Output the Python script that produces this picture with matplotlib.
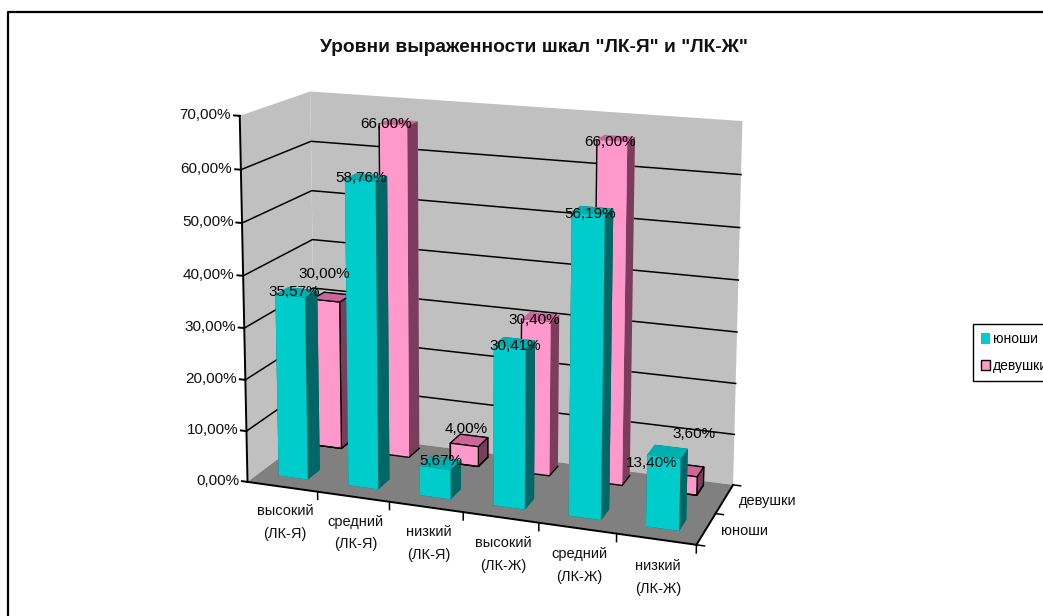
# -*- coding: utf-8 -*-
"""
3D column chart of the scale levels, boys and girls.
The camera is fitted to where the corners of the chart box sit in the picture.
"""

import numpy as np
import matplotlib
matplotlib.use("Agg")
import matplotlib.pyplot as plt
from matplotlib.patches import Patch
from mpl_toolkits.mplot3d import proj3d
from mpl_toolkits.mplot3d.art3d import Poly3DCollection

categories = ["высокий\n(ЛК-Я)", "средний\n(ЛК-Я)", "низкий\n(ЛК-Я)",
              "высокий\n(ЛК-Ж)", "средний\n(ЛК-Ж)", "низкий\n(ЛК-Ж)"]
series_names = ["юноши", "девушки"]
boys = [35.57, 58.76, 5.67, 30.41, 56.19, 13.40]
girls = [30.00, 66.00, 4.00, 30.40, 66.00, 3.60]
z_ticks = [0, 10, 20, 30, 40, 50, 60, 70]

W, H = 1043, 616
N = len(categories)
Z_MAX = z_ticks[-1]

# chart box point -> pixel in the picture
box_corners = [(0, 0, 0), (N, 0, 0), (N, 2, 0), (0, 2, 0),
               (0, 0, Z_MAX), (0, 2, Z_MAX), (N, 2, Z_MAX),
               (0, 0, 30), (N, 2, 30)]
box_pixels = [(247, 478), (697, 548), (733, 482), (316, 435),
              (240, 117), (310, 90), (743, 122),
              (244, 328), (736, 331)]

BOY_W = 0.42
GIRL_W = 0.4
BAR_D = 0.36
BOY_X = 0.49
GIRL_X = 0.435
BOY_Y = 0.33
GIRL_Y = 1.5
# faces in bar3d order: bottom, top, front, back, left, right
TEAL = ["#006666", "#00b0b0", "#00cccc", "#006666", "#006666", "#006666"]
PINK = ["#ff99cc", "#cc6699", "#ff99cc", "#ff99cc", "#7a3d5c", "#7a3d5c"]
OUTLINED = [0, 2, 5]

# nudges of the data labels: along the category axis, along the value axis
boy_label_shift = [(-0.04, 0), (-0.07, -0.2), (0, 0.4), (0, -0.6), (-0.04, -0.6), (-0.21, -2.5)]
girl_label_shift = [(-0.08, 5.3), (-0.17, 0), (-0.04, 3.2), (-0.09, 0.2), (-0.09, -0.2), (0.08, 8.2)]

plt.rcParams["font.family"] = ["Liberation Sans", "DejaVu Sans"]


def fit_camera(ax):
    """Least squares fit of the projection matrix from the box corners."""
    ax.apply_aspect()
    disp = [(px, H - py) for px, py in box_pixels]
    screen = ax.transData.inverted().transform(disp)
    rows = []
    rhs = []
    for (x, y, z), (u, v) in zip(box_corners, screen):
        rows.append([x, y, z, 1, 0, 0, 0, 0, -u * x, -u * y, -u * z])
        rows.append([0, 0, 0, 0, x, y, z, 1, -v * x, -v * y, -v * z])
        rhs.extend([u, v])
    p = np.linalg.lstsq(np.array(rows), np.array(rhs), rcond=None)[0]
    # third row only gives the depth order, far faces get the larger value
    return np.array([p[0:4], p[4:8], [0, 0, 0, -1], [p[8], p[9], p[10], 1]])


def label(x, y, z, text, color="#111111", **kwargs):
    """Put a flat text at a point of the 3D box."""
    u, v, _ = proj3d.proj_transform(x, y, z, camera)
    ax.text2D(u, v, text, transform=ax.transData, color=color, **kwargs)


def percent(value):
    return f"{value:.2f}%".replace(".", ",")


fig = plt.figure(figsize=(W / 100, H / 100), dpi=100, facecolor="white")
ax = fig.add_axes([0, 0, 1, 1], projection="3d", computed_zorder=False)
ax.set_axis_off()
camera = fit_camera(ax)
ax.get_proj = lambda: camera

# walls and floor
left_wall = [(0, 0, 0), (0, 2, 0), (0, 2, Z_MAX), (0, 0, Z_MAX)]
back_wall = [(0, 2, 0), (N, 2, 0), (N, 2, Z_MAX), (0, 2, Z_MAX)]
floor = [(0, 0, 0), (N, 0, 0), (N, 2, 0), (0, 2, 0)]
ax.add_collection3d(Poly3DCollection([left_wall, back_wall], facecolors="#c0c0c0",
                                     edgecolors="none", zorder=1))
ax.add_collection3d(Poly3DCollection([floor], facecolors="#808080",
                                     edgecolors="none", zorder=1))

# grid lines run along the left and the back wall
for z in z_ticks[1:-1]:
    ax.plot([0, 0, N], [0, 2, 2], [z, z, z], color="black", lw=1.1, zorder=2)

# axis lines and ticks
ax.plot([0, 0], [0, 0], [0, Z_MAX], color="black", lw=1.4, zorder=3)
ax.plot([0, N], [0, 0], [0, 0], color="black", lw=1.4, zorder=3)
ax.plot([N, N], [0, 2], [0, 0], color="black", lw=1.4, zorder=3)
for z in z_ticks:
    ax.plot([-0.08, 0], [0, 0], [z, z], color="black", lw=1.4, zorder=3)
    label(-0.12, 0, z, percent(z), ha="right", va="center", fontsize=11, zorder=3)
for i in range(1, N + 1):
    ax.plot([i, i], [0, 0], [0, -1.5], color="black", lw=1.1, zorder=3)
for j in range(3):
    ax.plot([N, N + 0.1], [j, j], [0, 0], color="black", lw=1.1, zorder=3)

# back row first, each row from the left
for i, value in enumerate(girls):
    left = i + GIRL_X - GIRL_W / 2
    right = left + GIRL_W
    edge = "black" if i in OUTLINED else "none"
    ax.bar3d(left, GIRL_Y, 0, GIRL_W, BAR_D, value, color=PINK, shade=False,
             edgecolors=edge, linewidths=0.9, zorder=10 + 2 * i)
    ax.plot([left, left, right, right], [GIRL_Y, GIRL_Y, GIRL_Y, GIRL_Y + BAR_D],
            [value, 0, 0, 0], color="black", lw=1.0, zorder=11 + 2 * i)
for i, value in enumerate(boys):
    ax.bar3d(i + BOY_X - BOY_W / 2, BOY_Y, 0, BOY_W, BAR_D, value, color=TEAL, shade=False,
             edgecolors="none", linewidths=0, zorder=30 + i)

for i, name in enumerate(categories):
    label(i + 0.53, 0, -7.0, name, ha="center", va="center", fontsize=10.5,
          linespacing=1.8, zorder=3)
for j, name in enumerate(series_names):
    label(N + 0.19, j + 0.5, 0, name, ha="left", va="center", fontsize=10.5, zorder=3)

for i in range(N):
    dx, dz = girl_label_shift[i]
    label(i + 0.5 + dx, 1.5, girls[i] + dz, percent(girls[i]), color="black", ha="center",
          va="center", fontsize=11, zorder=40)
    dx, dz = boy_label_shift[i]
    label(i + 0.5 + dx, 0.5, boys[i] + dz, percent(boys[i]), color="black", ha="center",
          va="center", fontsize=11, zorder=40)

fig.text(534 / W, 1 - 47 / H, 'Уровни выраженности шкал "ЛК-Я" и "ЛК-Ж"', ha="center",
         va="center", fontsize=13.8, fontweight="bold", color="#111111")

# chart border, cut by the right and bottom edge of the picture
fig.add_artist(plt.Line2D([8 / W, 8 / W, 1], [0, 1 - 12 / H, 1 - 12 / H], color="black", lw=1.6))

handles = [Patch(facecolor=TEAL[2], edgecolor="none"),
           Patch(facecolor=PINK[2], edgecolor="black")]
fig.legend(handles, series_names, loc="upper left", bbox_to_anchor=(973 / W, 1 - 324 / H),
           borderaxespad=0, fontsize=10, fancybox=False, framealpha=1, edgecolor="black",
           handlelength=0.65, handleheight=0.8, handletextpad=0.2, labelspacing=0.9,
           borderpad=0.6)

fig.savefig("out.png", dpi=100, facecolor="white")
